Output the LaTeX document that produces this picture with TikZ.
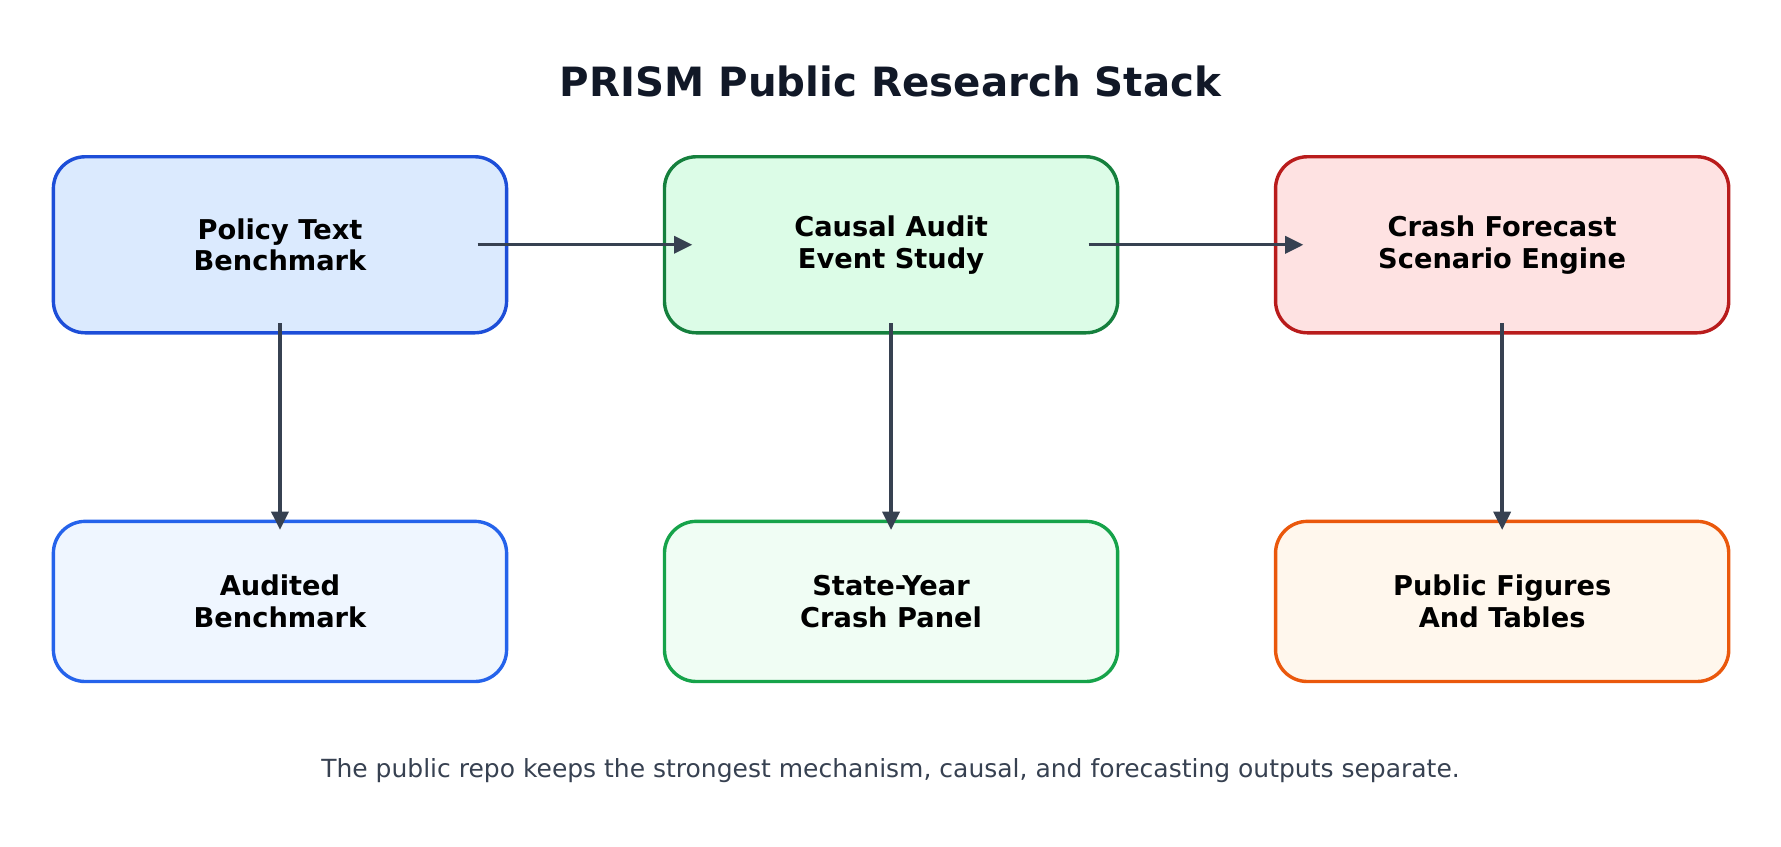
\documentclass[tikz,border=0pt]{standalone}
\usepackage{fontspec}
\setmainfont{DejaVu Sans}
\usetikzlibrary{arrows.meta}
\definecolor{arr}{HTML}{374151}
\definecolor{ttl}{HTML}{111827}
\begin{document}
\begin{tikzpicture}[x=1pt,y=-1pt,
 box/.style={draw,line width=3pt,rounded corners=28pt,minimum width=399pt,inner sep=0pt,align=center,font=\fontsize{24}{28}\selectfont\bfseries},
 top/.style={box,minimum height=155pt},
 bot/.style={box,minimum height=141pt},
 ar/.style={draw=arr,line width=3pt,-{Triangle[length=16pt,width=15pt]}}]
\useasboundingbox (0,0) rectangle (1568,745);
\definecolor{b1}{HTML}{1D4ED8}\definecolor{f1}{HTML}{DBEAFE}
\definecolor{b2}{HTML}{2563EB}\definecolor{f2}{HTML}{EFF6FF}
\definecolor{g1}{HTML}{15803D}\definecolor{h1}{HTML}{DCFCE7}
\definecolor{g2}{HTML}{16A34A}\definecolor{h2}{HTML}{F0FDF4}
\definecolor{r1}{HTML}{B91C1C}\definecolor{s1}{HTML}{FEE2E2}
\definecolor{r2}{HTML}{EA580C}\definecolor{s2}{HTML}{FFF7ED}
\node[font=\fontsize{35.5}{40}\selectfont\bfseries,text=ttl] (title) at (784,72) {PRISM Public Research Stack};
\node[top,draw=b1,fill=f1] (a) at (246.5,215.5) {Policy Text\\Benchmark};
\node[top,draw=g1,fill=h1] (b) at (784.5,215.5) {Causal Audit\\Event Study};
\node[top,draw=r1,fill=s1] (c) at (1322.5,215.5) {Crash Forecast\\Scenario Engine};
\node[bot,draw=b2,fill=f2] (d) at (246.5,529.5) {Audited\\Benchmark};
\node[bot,draw=g2,fill=h2] (e) at (784.5,529.5) {State-Year\\Crash Panel};
\node[bot,draw=r2,fill=s2] (f) at (1322.5,529.5) {Public Figures\\And Tables};
\draw[ar] ([xshift=-27pt]a.east) -- ([xshift=26pt]b.west);
\draw[ar] ([xshift=-27pt]b.east) -- ([xshift=26pt]c.west);
\draw[ar] ([yshift=10pt]a.south) -- ([yshift=-9pt]d.north);
\draw[ar] ([yshift=10pt]b.south) -- ([yshift=-9pt]e.north);
\draw[ar] ([yshift=10pt]c.south) -- ([yshift=-9pt]f.north);
\node[font=\fontsize{22}{26}\selectfont,text=arr] (cap) at (784,678) {The public repo keeps the strongest mechanism, causal, and forecasting outputs separate.};
\end{tikzpicture}
\end{document}
